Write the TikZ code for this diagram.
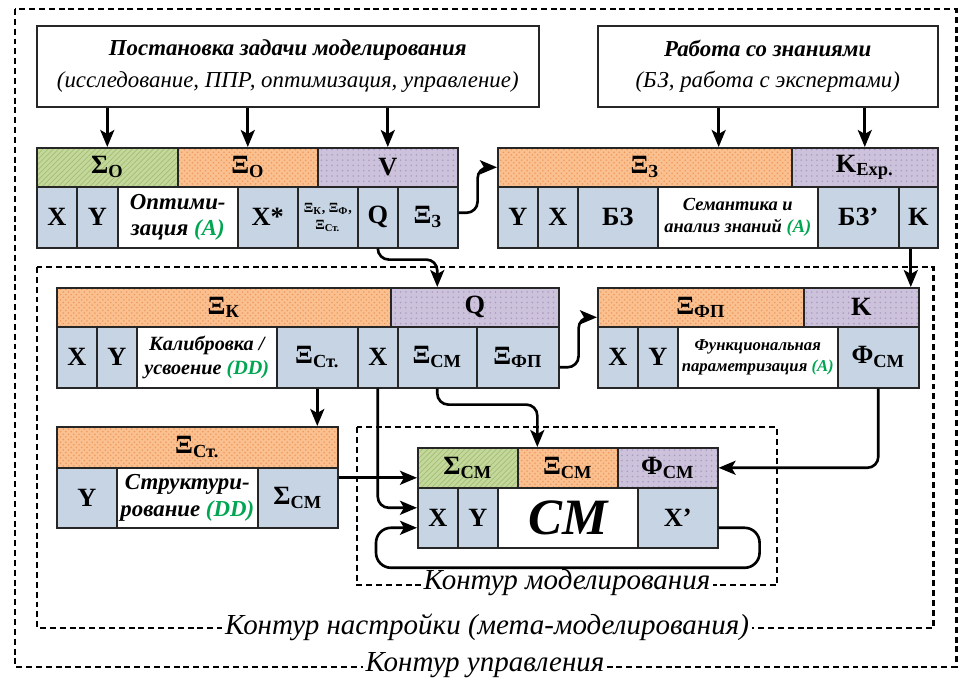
\documentclass[tikz,border=0pt]{standalone}
\usepackage{fontspec}
\setmainfont{Liberation Serif}
\usetikzlibrary{arrows.meta, patterns, calc}
\definecolor{ccell}{HTML}{C6D4E4}
\definecolor{cgreen}{HTML}{C4D89C}
\definecolor{cgreenl}{HTML}{A3BF74}
\definecolor{corange}{HTML}{FAC08F}
\definecolor{corangel}{HTML}{EE9A5E}
\definecolor{cpurple}{HTML}{CDC2DB}
\definecolor{cpurplel}{HTML}{AA9BBF}
\definecolor{cmark}{HTML}{00A651}
\tikzset{
  every picture/.style={line width=0.9pt},
  sz/.style args={#1/#2}{minimum width=#1*0.02cm, minimum height=#2*0.02cm},
  cell/.style={draw=black!85, fill=ccell, inner sep=0pt, anchor=north west, align=center, font=\bfseries\fontsize{15}{17}\selectfont},
  txt/.style={cell, fill=white, font=\bfseries\itshape\fontsize{#1}{\dimexpr #1pt+2pt\relax}\selectfont},
  txt/.default=13,
  hsig/.style={cell, fill=none, preaction={fill=cgreen}, pattern=north east lines, pattern color=cgreenl},
  hxi/.style={cell, fill=none, preaction={fill=corange}, pattern=crosshatch dots, pattern color=corangel},
  hpar/.style={cell, fill=none, preaction={fill=cpurple}, pattern=dots, pattern color=cpurplel},
  topbox/.style={draw=black!85, fill=white, inner sep=0pt, anchor=north west, align=center, font=\itshape\fontsize{13}{18}\selectfont},
  arrow/.style={-{Stealth[length=3.4mm, width=2.8mm, inset=0.8mm]}, line width=1.5pt, rounded corners=0.22cm},
  frame/.style={draw, line width=1.7pt, dash pattern=on 3.4pt off 2.2pt},
  flabel/.style={fill=white, inner sep=1.5pt, font=\itshape\fontsize{16.5}{18}\selectfont},
}
\newcommand{\sbs}[1]{\textsubscript{#1}}
\newcommand{\mk}[1]{{\color{cmark}#1}}

\begin{document}
\begin{tikzpicture}[x=0.02cm, y=-0.02cm]
  \useasboundingbox (0,0) rectangle (961,682);

  % contours
  \draw[frame] (15,9) rectangle (956,667);
  \draw[frame] (37,267) rectangle (933,628);
  \draw[frame] (357,427) rectangle (777,585);
  \node[flabel] (lctl) at (485,665) {Контур управления};
  \node[flabel] (ltun) at (487,627) {Контур настройки (мета-моделирования)};
  \node[flabel] (lmod) at (567,583) {Контур моделирования};

  % task statement and knowledge
  \node[topbox, sz=502/81] (task) at (36,25) {\textbf{Постановка задачи моделирования}\\(исследование, ППР, оптимизация, управление)};
  \node[topbox, sz=340/81] (know) at (597,25) {\textbf{Работа со знаниями}\\(БЗ, работа с экспертами)};

  % optimisation
  \node[hsig, sz=141/39] (hs1) at (36,147) {Σ\sbs{O}};
  \node[hxi, sz=140/39] (hx1) at (177,147) {Ξ\sbs{O}};
  \node[hpar, sz=140/39] (hv1) at (317,147) {V};
  \node[cell, sz=40/61] (c1x) at (36,186) {X};
  \node[cell, sz=41/61] (c1y) at (76,186) {Y};
  \node[txt, sz=120/61] (c1opt) at (117,186) {Оптими-\\зация \mk{(A)}};
  \node[cell, sz=60/61] (c1xs) at (237,186) {X*};
  \node[cell, sz=60/61, font=\bfseries\fontsize{8}{9.5}\selectfont] (c1xi) at (297,186) {Ξ\sbs{К}, Ξ\sbs{Ф},\\Ξ\sbs{Ст.}};
  \node[cell, sz=40/61] (c1q) at (357,186) {Q};
  \node[cell, sz=60/61] (c1xz) at (397,186) {Ξ\sbs{З}};
  \draw[arrow] (hs1.north |- task.south) -- (hs1.north);
  \draw[arrow] (hx1.north |- task.south) -- (hx1.north);
  \draw[arrow] (hv1.north |- task.south) -- (hv1.north);

  % semantics
  \node[hxi, sz=294/39] (hx2) at (497,147) {Ξ\sbs{З}};
  \node[hpar, sz=146/39] (hk2) at (791,147) {K\sbs{Exp.}};
  \node[cell, sz=40/61] (c2y) at (497,186) {Y};
  \node[cell, sz=40/61] (c2x) at (537,186) {X};
  \node[cell, sz=80/61] (c2kb) at (577,186) {БЗ};
  \node[txt=10.5, sz=160/61] (c2sem) at (657,186) {Семантика и\\анализ знаний \mk{(A)}};
  \node[cell, sz=81/61] (c2kbp) at (817,186) {БЗ’};
  \node[cell, sz=39/61] (c2k) at (898,186) {K};
  \coordinate (ax2) at ($(hx2.north west)!0.75!(hx2.north east)$);
  \draw[arrow] (ax2 |- know.south) -- (ax2);
  \draw[arrow] (hk2.north |- know.south) -- (hk2.north);
  \draw[arrow] ([yshift=0.09cm]c1xz.east) -- ++(19,0) |- (hx2.west);

  % calibration
  \node[hxi, sz=334/39] (hx3) at (56,287) {Ξ\sbs{К}};
  \node[hpar, sz=168/39] (hq3) at (390,287) {Q};
  \node[cell, sz=40/61] (c3x) at (56,326) {X};
  \node[cell, sz=40/61] (c3y) at (96,326) {Y};
  \node[txt=11.5, sz=140/61] (c3cal) at (136,326) {Калибровка /\\усвоение \mk{(DD)}};
  \node[cell, sz=81/61] (c3st) at (276,326) {Ξ\sbs{Ст.}};
  \node[cell, sz=40/61] (c3xx) at (357,326) {X};
  \node[cell, sz=79/61] (c3cm) at (397,326) {Ξ\sbs{СМ}};
  \node[cell, sz=82/61] (c3fp) at (476,326) {Ξ\sbs{ФП}};
  \draw[arrow] (c1q.south) -- ++(0,11) -| (c3cm.center |- hq3.north);

  % functional parametrisation
  \node[hxi, sz=206/39] (hx4) at (597,287) {Ξ\sbs{ФП}};
  \node[hpar, sz=115/39] (hk4) at (803,287) {K};
  \node[cell, sz=40/61] (c4x) at (597,326) {X};
  \node[cell, sz=40/61] (c4y) at (637,326) {Y};
  \node[txt=9.5, sz=160/61] (c4fun) at (677,326) {Функциональная\\параметризация \mk{(A)}};
  \node[cell, sz=81/61] (c4phi) at (837,326) {Φ\sbs{СМ}};
  \draw[arrow] ([xshift=-0.15cm]c2k.south) -- ([xshift=-0.15cm]c2k.south |- hk4.north);
  \draw[arrow] ([yshift=-0.2cm]c3fp.east) -- ++(19,0) |- ([yshift=-0.2cm]hx4.west);

  % structuring
  \node[hxi, sz=281/41] (hx5) at (56,426) {Ξ\sbs{Ст.}};
  \node[cell, sz=60/60] (c5y) at (56,467) {Y};
  \node[txt=13, sz=141/60] (c5str) at (116,467) {Структури-\\рование \mk{(DD)}};
  \node[cell, sz=80/60] (c5sig) at (257,467) {Σ\sbs{СМ}};
  \draw[arrow] (c3st.south) -- (c3st.south |- hx5.north);

  % simulation model
  \node[hsig, sz=100/40] (hsm) at (417,447) {Σ\sbs{СМ}};
  \node[hxi, sz=100/40] (hxm) at (517,447) {Ξ\sbs{СМ}};
  \node[hpar, sz=100/40] (hpm) at (617,447) {Φ\sbs{СМ}};
  \node[cell, sz=40/60] (cmx) at (417,487) {X};
  \node[cell, sz=40/60] (cmy) at (457,487) {Y};
  \node[txt=29, sz=140/60] (cm) at (497,487) {CM};
  \node[cell, sz=80/60] (cmxp) at (637,487) {X’};
  \coordinate (axm) at ($(hxm.north west)!0.2!(hxm.north east)$);
  \draw[arrow] (c3cm.south) -- ++(0,16) -| (axm);
  \draw[arrow] (c3xx.south) |- ([yshift=0.2cm]cmx.west);
  \draw[arrow] ([yshift=-0.2cm]hsm.west -| c5sig.east) -- ([yshift=-0.2cm]hsm.west);
  \draw[arrow] (c4phi.south) |- (hpm.east);
  \draw[arrow, rounded corners=0.3cm] ([yshift=-0.2cm]cmxp.east) -| ++(41,40) -| ([xshift=-0.82cm, yshift=-0.2cm]cmx.west) -- ([yshift=-0.2cm]cmx.west);
\end{tikzpicture}
\end{document}
